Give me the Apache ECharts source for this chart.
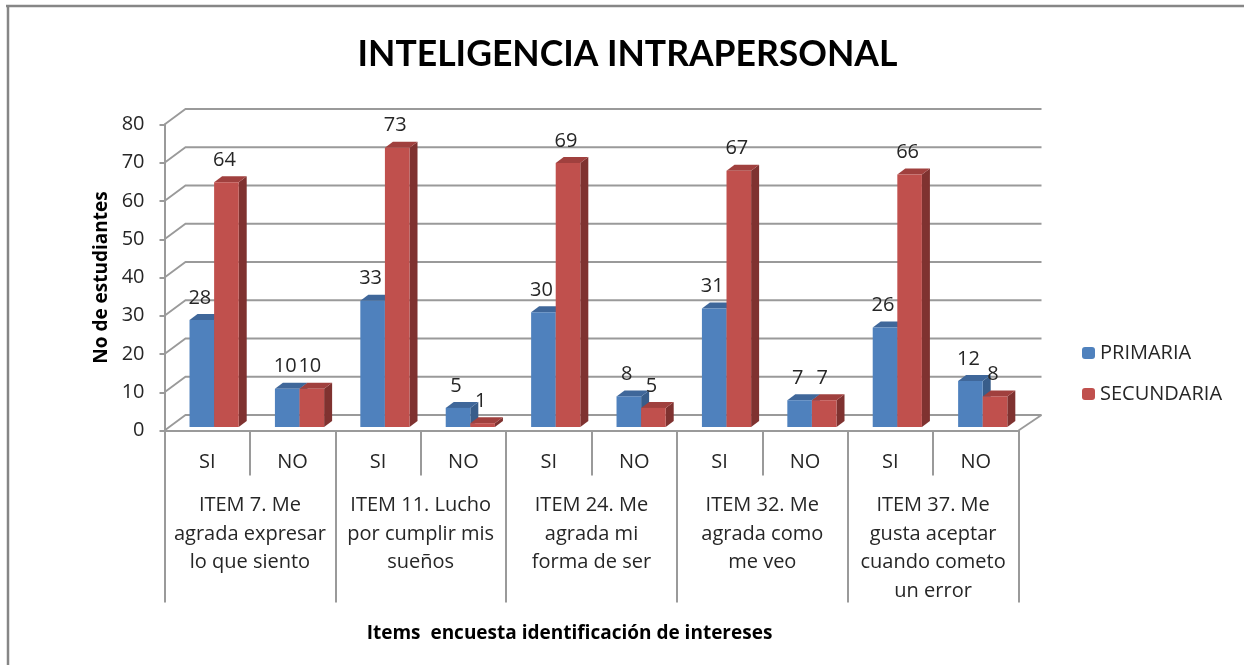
<!DOCTYPE html>
<html><head><meta charset="utf-8">
<style>html,body{margin:0;padding:0;background:#fff}#c{width:1244px;height:665px}</style>
<script src="https://cdn.jsdelivr.net/npm/echarts@6/dist/echarts.min.js"></script>
</head><body><div id="c"></div>
<script>
const answers = ['SI','NO','SI','NO','SI','NO','SI','NO','SI','NO'];
const items = ['ITEM 7. Me\nagrada expresar\nlo que siento','ITEM 11. Lucho\npor cumplir mis\nsueños','ITEM 24. Me\nagrada mi\nforma de ser','ITEM 32. Me\nagrada como\nme veo','ITEM 37. Me\ngusta aceptar\ncuando cometo\nun error'];
const primaria = [28,10,33,5,30,8,31,7,26,12];
const secundaria = [64,10,73,1,69,5,67,7,66,8];
const yTicks = [0,10,20,30,40,50,60,70,80];

const FONT='Open Sans', TFONT='Lato', GREY='#9a9a9a', TXT='#262626';
const DX=21, DY=-15.5;
const chart = echarts.init(document.getElementById('c'),null,{renderer:'canvas'});

function barRender(idx, front, side, top){
  return function(params, api){
    const w = api.size([1,0])[0];
    const c = api.coord([api.value(0), api.value(1)]);
    const b = api.coord([api.value(0), 0]);
    const bw = w*0.288, x0 = c[0]-w/2 + w*0.293 + idx*bw, x1 = x0+bw;
    const shiftY=-3.5, dx=8, dy=-6;
    const yt=c[1]+shiftY, yb=b[1]+shiftY;
    const poly=(pts,fill)=>({type:'polygon',shape:{points:pts},style:{fill:fill}});
    return {type:'group',children:[
      poly([[x1,yt],[x1+dx,yt+dy],[x1+dx,yb+dy],[x1,yb]],side),
      poly([[x0,yt],[x0+dx,yt+dy],[x1+dx,yt+dy],[x1,yt]],top),
      {type:'rect',shape:{x:x0,y:yt,width:bw,height:yb-yt},style:{fill:front}},
      {type:'text',style:{text:String(api.value(1)),x:(x0+x1)/2-2,y:yt-22,align:'center',verticalAlign:'middle',
        font:'20px "'+FONT+'"',fill:TXT}}
    ]};
  };
}
function wallRender(params, api){
  const cs=params.coordSys, v=api.value(0);
  const y=api.coord([0,v])[1], xl=cs.x, xr=cs.x+cs.width;
  const ls={stroke:GREY,lineWidth:1.8,fill:null};
  const ch=[{type:'polyline',shape:{points:[[xl,y],[xl+DX,y+DY],[xr+23,y+DY]]},style:ls}];
  if(v===0) ch.push({type:'line',shape:{x1:xr,y1:y,x2:xr+23,y2:y+DY},style:ls});
  return {type:'group',children:ch};
}

chart.setOption({
  animation:false,
  backgroundColor:'#fff',
  title:{text:'INTELIGENCIA INTRAPERSONAL',left:622.5,top:32,textAlign:'center',
    textStyle:{fontFamily:TFONT,fontWeight:'bold',fontSize:35.5,color:'#000'}},
  legend:{orient:'vertical',left:1077,top:338,itemWidth:13,itemHeight:12,itemGap:21,
    data:['PRIMARIA','SECUNDARIA'],textStyle:{fontFamily:FONT,fontSize:20,color:TXT}},
  grid:{left:164.5,top:124.5,width:854,height:306},
  xAxis:[
    {type:'category',data:answers,position:'bottom',
     axisLine:{lineStyle:{color:GREY,width:2}},
     axisTick:{show:true,length:45,lineStyle:{color:GREY,width:2}},
     axisLabel:{fontFamily:FONT,fontSize:20,color:TXT,margin:22,interval:0}},
    {type:'category',data:items,position:'bottom',
     name:'Items  encuesta identificación de intereses',nameLocation:'middle',nameGap:194,
     nameTextStyle:{fontFamily:FONT,fontWeight:'bold',fontSize:19,color:'#000',padding:[0,44,0,0]},
     axisLine:{show:false},
     axisTick:{show:true,length:172,lineStyle:{color:GREY,width:2}},
     axisLabel:{fontFamily:FONT,fontSize:20,color:TXT,margin:61,lineHeight:28.5,verticalAlign:'top',interval:0}}
  ],
  yAxis:{type:'value',min:0,max:80,interval:10,
    name:'No de estudiantes',nameLocation:'middle',nameGap:53,
    nameTextStyle:{fontFamily:FONT,fontWeight:'bold',fontSize:19,color:'#000'},
    axisLine:{show:true,lineStyle:{color:GREY,width:2}},
    axisTick:{show:true,length:5,lineStyle:{color:GREY,width:2}},
    splitLine:{show:false},
    axisLabel:{fontFamily:FONT,fontSize:20,color:TXT,margin:20,padding:[4,0,0,0]}},
  series:[
    {type:'custom',name:'wall',silent:true,z:1,coordinateSystem:'cartesian2d',xAxisIndex:0,
     data:yTicks.map(v=>[v]),encode:{y:0},renderItem:wallRender},
    {type:'custom',name:'PRIMARIA',z:2,xAxisIndex:0,itemStyle:{color:'#4F81BD'},
     data:primaria.map((v,i)=>[i,v]),encode:{x:0,y:1},renderItem:barRender(0,'#4F81BD','#385D8A','#3F679A')},
    {type:'custom',name:'SECUNDARIA',z:3,xAxisIndex:0,itemStyle:{color:'#C0504D'},
     data:secundaria.map((v,i)=>[i,v]),encode:{x:0,y:1},renderItem:barRender(1,'#C0504D','#7F3230','#A0403E')}
  ],
  graphic:[
    {type:'line',shape:{x1:6,y1:6,x2:1244,y2:6},style:{stroke:'#868686',lineWidth:2.5}},
    {type:'line',shape:{x1:8,y1:5,x2:8,y2:665},style:{stroke:'#868686',lineWidth:2.5}}
  ]
});
</script></body></html>
